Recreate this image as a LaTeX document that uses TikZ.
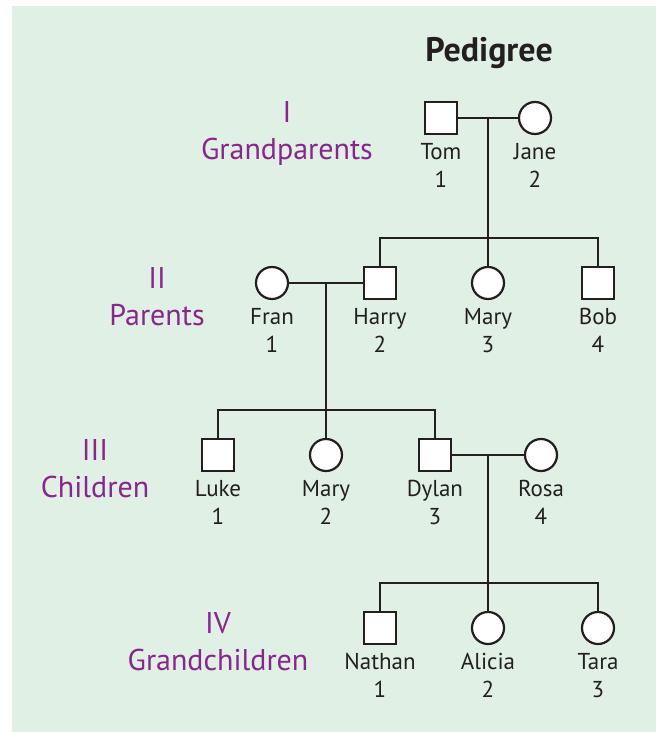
\documentclass[tikz,border=0pt]{standalone}
\usepackage{fontspec}
\setmainfont{PT Sans}
\usetikzlibrary{positioning}
\definecolor{pedbg}{RGB}{224,240,229}
\definecolor{genpurple}{RGB}{137,38,142}
\definecolor{ink}{RGB}{35,31,32}

\begin{document}
\begin{tikzpicture}[
                x=1pt, y=-1pt,
                male/.style={draw=ink, fill=white, rectangle, minimum size=32pt, inner sep=0pt, line width=2.2pt},
                female/.style={draw=ink, fill=white, circle, minimum size=32pt, inner sep=0pt, line width=2.2pt},
                who/.style={text=ink, align=center, inner sep=0pt, font=\fontsize{23}{28}\selectfont},
                gen/.style={text=genpurple, align=center, inner sep=0pt, anchor=north, font=\fontsize{30}{37}\selectfont},
                link/.style={draw=ink, line width=2.4pt}
            ]

\useasboundingbox (0,0) rectangle (656,732);
            \fill[pedbg] (12,6) rectangle (656,732);

\node[text=ink, font=\fontsize{34}{38}\selectfont\bfseries] (title) at (489,53) {Pedigree};

% generation labels
            \node[gen] (g1) at (287,101) {I\\Grandparents};
            \node[gen] (g2) at (157,267) {II\\Parents};
            \node[gen] (g3) at (95,439) {III\\Children};
            \node[gen] (g4) at (218,612) {IV\\Grandchildren};

% generation I
            \node[male] (tom) at (441,118) {};
            \node[female] (jane) at (535,118) {};
            \node[who, below=8pt of tom] (tomname) {Tom\\1};
            \node[who, below=8pt of jane] (janename) {Jane\\2};

% generation II
            \node[female] (fran) at (272,283) {};
            \node[male] (harry) at (380,283) {};
            \node[female] (maryb) at (488,283) {};
            \node[male] (bob) at (598,283) {};
            \node[who, below=8pt of fran] (franname) {Fran\\1};
            \node[who, below=8pt of harry] (harryname) {Harry\\2};
            \node[who, below=8pt of maryb] (marybname) {Mary\\3};
            \node[who, below=8pt of bob] (bobname) {Bob\\4};

% generation III
            \node[male] (luke) at (218,455) {};
            \node[female] (maryc) at (326,455) {};
            \node[male] (dylan) at (435,455) {};
            \node[female] (rosa) at (541,455) {};
            \node[who, below=8pt of luke] (lukename) {Luke\\1};
            \node[who, below=8pt of maryc] (marycname) {Mary\\2};
            \node[who, below=8pt of dylan] (dylanname) {Dylan\\3};
            \node[who, below=8pt of rosa] (rosaname) {Rosa\\4};

% generation IV
            \node[male] (nathan) at (380,628) {};
            \node[female] (alicia) at (488,628) {};
            \node[female] (tara) at (598,628) {};
            \node[who, below=8pt of nathan] (nathanname) {Nathan\\1};
            \node[who, below=8pt of alicia] (alicianame) {Alicia\\2};
            \node[who, below=8pt of tara] (taraname) {Tara\\3};

\coordinate (bar2) at (0,238);
            \coordinate (bar3) at (0,410);
            \coordinate (bar4) at (0,583);

% couples and children
            \draw[link] (tom) -- coordinate (wed1) (jane);
            \draw[link] (wed1) -- (maryb);
            \draw[link] (harry) -- (harry |- bar2) -- (bob |- bar2) -- (bob);

\draw[link] (fran) -- coordinate (wed2) (harry);
            \draw[link] (wed2) -- (maryc);
            \draw[link] (luke) -- (luke |- bar3) -- (dylan |- bar3) -- (dylan);

\draw[link] (dylan) -- coordinate (wed3) (rosa);
            \draw[link] (wed3) -- (alicia);
            \draw[link] (nathan) -- (nathan |- bar4) -- (tara |- bar4) -- (tara);

\end{tikzpicture}
\end{document}
